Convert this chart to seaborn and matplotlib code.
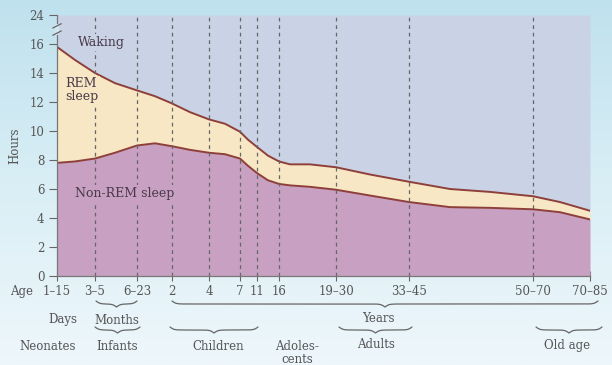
import numpy as np
import pandas as pd
import matplotlib
matplotlib.use("Agg")
import matplotlib.pyplot as plt
import matplotlib.transforms as mtransforms
from matplotlib.colors import LinearSegmentedColormap
import seaborn as sns

# age groups on the x axis (non linear axis, positions below are layout units)
age_labels = ["1–15", "3–5", "6–23", "2", "4", "7", "11", "16", "19–30", "33–45", "50–70", "70–85"]
age_pos = [0, 38, 80, 115, 152, 183, 200, 222, 279, 352, 476, 533]

# curve readings: position along the axis, total sleep (top of REM), non-REM sleep
curve_x = [0, 18, 38, 58, 80, 98, 115, 133, 152, 168, 183, 191, 200, 211, 222, 233,
           253, 279, 313, 352, 393, 433, 476, 503, 533]
total_sleep = [15.8, 14.9, 14.0, 13.3, 12.8, 12.4, 11.9, 11.3, 10.8, 10.5, 9.95, 9.4,
               8.9, 8.3, 7.9, 7.7, 7.7, 7.5, 7.0, 6.5, 6.0, 5.8, 5.5, 5.1, 4.5]
nonrem_sleep = [7.8, 7.9, 8.1, 8.5, 9.0, 9.15, 8.95, 8.7, 8.5, 8.4, 8.1, 7.6,
                7.1, 6.6, 6.35, 6.25, 6.15, 5.95, 5.55, 5.1, 4.75, 4.7, 4.6, 4.4, 3.9]

ytick_vals = [0, 2, 4, 6, 8, 10, 12, 14, 16, 18]
ytick_labels = ["0", "2", "4", "6", "8", "10", "12", "14", "16", "24"]

df = pd.DataFrame({"x": curve_x, "total": total_sleep, "nrem": nonrem_sleep})

sns.set_style("white")
plt.rcParams["font.family"] = ["DejaVu Serif"]

fig = plt.figure(figsize=(6.12, 3.65), dpi=100)

# background gradient
bg = fig.add_axes([0, 0, 1, 1], zorder=-5)
grad = np.linspace(0, 1, 256).reshape(-1, 1)
cmap = LinearSegmentedColormap.from_list("bg", ["#bfe1ee", "#d9eef5", "#eef7fb"])
bg.imshow(grad, aspect="auto", cmap=cmap, extent=[0, 1, 0, 1], origin="upper")
bg.axis("off")

W, H = 612, 365
ax = fig.add_axes([57 / W, 1 - 276 / H, 533 / W, 261 / H])
ax.patch.set_alpha(0)

c_wake, c_rem, c_nrem = "#cad3e5", "#f7e7c4", "#c8a0c2"
top = 18
ax.fill_between(df["x"], df["total"], top, color=c_wake, lw=0)
ax.fill_between(df["x"], df["nrem"], df["total"], color=c_rem, lw=0)
ax.fill_between(df["x"], 0, df["nrem"], color=c_nrem, lw=0)
sns.lineplot(data=df, x="x", y="total", ax=ax, color="#8e3f3a", lw=1.4)
sns.lineplot(data=df, x="x", y="nrem", ax=ax, color="#8e3f3a", lw=1.4)

ax.vlines(age_pos[1:-1], 0, top, colors="#666666", linestyles=(0, (3, 3)), lw=0.9)

ax.set_xlim(0, 533)
ax.set_ylim(0, top)
ax.set_xlabel("")
ax.set_ylabel("Hours", fontsize=8.5, color="#555555", labelpad=6)

ax.set_xticks(age_pos)
ax.set_xticklabels(age_labels)
ax.set_yticks(ytick_vals)
ax.set_yticklabels(ytick_labels)
ax.set_yticks(np.arange(1, 16, 2), minor=True)
ax.tick_params(axis="x", direction="inout", length=7, width=0.8, color="#666666",
               labelsize=8.5, labelcolor="#555555", pad=3)
ax.tick_params(axis="y", which="major", direction="out", length=6, width=0.8, color="#666666",
               labelsize=8.5, labelcolor="#555555", pad=3)
ax.tick_params(axis="y", which="minor", direction="out", length=3.5, width=0.8, color="#666666")
ax.tick_params(axis="y", which="major", left=True)
ax.tick_params(axis="x", bottom=True)

for s in ["top", "right"]:
    ax.spines[s].set_visible(False)
for s in ["left", "bottom"]:
    ax.spines[s].set_color("#777777")
    ax.spines[s].set_linewidth(0.9)

# axis break between 16 and 24
bt = mtransforms.blended_transform_factory(ax.transAxes, ax.transData)
ax.plot([0, 0], [16.75, 17.25], transform=bt, color="#d3e7f0", lw=3, clip_on=False, zorder=5)
for yb in [16.75, 17.25]:
    ax.plot([-0.008, 0.008], [yb - 0.15, yb + 0.15], transform=bt, color="#666666",
            lw=0.9, clip_on=False, zorder=6)

# labels inside the plot (dashed lines break behind them)
tc = "#4a3a4a"
ax.text(44, 16.1, "Waking", fontsize=9, color=tc, ha="center", va="center", zorder=4,
        bbox=dict(boxstyle="square,pad=0.15", fc=c_wake, ec="none"))
ax.text(8, 12.8, "REM\nsleep", fontsize=9, color=tc, ha="left", va="center", linespacing=1.0,
        zorder=4, bbox=dict(boxstyle="square,pad=0.1", fc=c_rem, ec="none"))
ax.text(18, 5.7, "Non-REM sleep", fontsize=9, color=tc, ha="left", va="center", zorder=4,
        bbox=dict(boxstyle="square,pad=0.15", fc=c_nrem, ec="none"))

# annotations below the axis (y in pixel rows of the figure)
ty = mtransforms.blended_transform_factory(ax.transData, fig.transFigure)


def fy(py):
    return 1 - py / H


def brace(x0, x1, py, depth=6, beta=0.5):
    n = 201
    xs = np.linspace(x0, x1, n)
    half = xs[: n // 2 + 1] - x0
    h = 1 / (1 + np.exp(-beta * (half - half[0]))) + 1 / (1 + np.exp(-beta * (half - half[-1])))
    v = np.concatenate([h, h[-2::-1]])
    ys = fy(py) - (v - 0.5) * depth / H
    ax.plot(xs, ys, transform=ty, color="#666666", lw=0.9, clip_on=False)


lc = "#555555"
fs = 8.5
ax.text(-35, fy(292), "Age", transform=ty, fontsize=fs, color=lc, ha="center", va="center")

brace(39, 80, 301)
brace(115, 541, 301)
ax.text(6, fy(320), "Days", transform=ty, fontsize=fs, color=lc, ha="center", va="center")
ax.text(60, fy(320), "Months", transform=ty, fontsize=fs, color=lc, ha="center", va="center")
ax.text(321, fy(318), "Years", transform=ty, fontsize=fs, color=lc, ha="center", va="center")

brace(38, 83, 327)
brace(113, 201, 327)
brace(282, 355, 327)
brace(479, 545, 327)
ax.text(-9, fy(347), "Neonates", transform=ty, fontsize=fs, color=lc, ha="center", va="center")
ax.text(60, fy(347), "Infants", transform=ty, fontsize=fs, color=lc, ha="center", va="center")
ax.text(161, fy(347), "Children", transform=ty, fontsize=fs, color=lc, ha="center", va="center")
ax.text(240, fy(353), "Adoles-\ncents", transform=ty, fontsize=fs, color=lc, ha="center",
        va="center", linespacing=1.0)
ax.text(319, fy(345), "Adults", transform=ty, fontsize=fs, color=lc, ha="center", va="center")
ax.text(510, fy(345), "Old age", transform=ty, fontsize=fs, color=lc, ha="center", va="center")

fig.savefig("out.png", dpi=100)
